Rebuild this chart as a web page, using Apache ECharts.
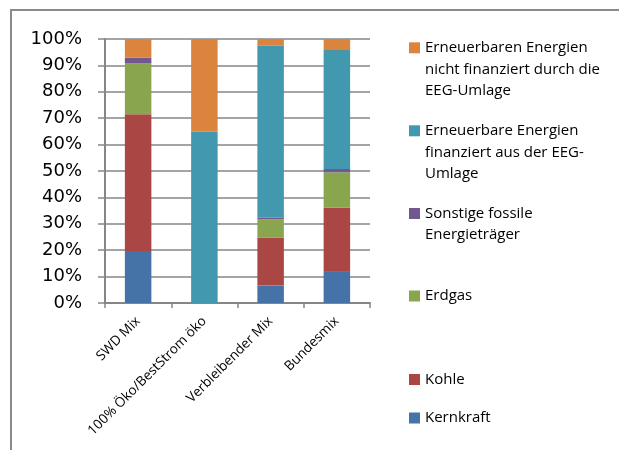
<!DOCTYPE html>
<html>
<head>
<meta charset="utf-8">
<script src="https://cdn.jsdelivr.net/npm/echarts@6/dist/echarts.min.js"></script>
<style>
  html, body { margin: 0; padding: 0; background: #fff; }
  #chart { width: 619px; height: 450px; }
</style>
</head>
<body>
<div id="chart"></div>
<script>
// Kategorien und Werte (in %)
const categories = ['SWD Mix', '100% Öko/BestStrom öko', 'Verbleibender Mix', 'Bundesmix']
const kernkraft = [19.7, 0, 6.6, 12.1]
const kohle = [51.8, 0, 18.1, 24.1]
const erdgas = [19.3, 0, 7.0, 13.3]
const sonstige = [2.1, 0, 0.6, 1.3]
const eegFinanziert = [0, 64.9, 65.2, 45.0]
const eegNicht = [7.1, 35.1, 2.5, 4.2]

const seriesNames = [
  'Kernkraft',
  'Kohle',
  'Erdgas',
  'Sonstige fossile Energieträger',
  'Erneuerbare Energien finanziert aus der EEG-Umlage',
  'Erneuerbaren Energien nicht finanziert durch die EEG-Umlage'
]
// Legendentext mit Zeilenumbruechen wie im Original
const legendLabels = [
  'Kernkraft',
  'Kohle',
  'Erdgas',
  'Sonstige fossile\nEnergieträger',
  'Erneuerbare Energien\nfinanziert aus der EEG-\nUmlage',
  'Erneuerbaren Energien\nnicht finanziert durch die\nEEG-Umlage'
]
const seriesData = [kernkraft, kohle, erdgas, sonstige, eegFinanziert, eegNicht]
const colors = ['#4572A7', '#AA4643', '#89A54E', '#71588F', '#4198AF', '#DB843D']

// Mitte des Legendensymbols (y) pro Serie
const legendIconY = [418, 379.5, 296, 213.5, 130.8, 47.8]
const lineH = 21.5

const myChart = echarts.init(document.getElementById('chart'))

const legends = seriesNames.map((name, i) => {
  const n = legendLabels[i].split('\n').length
  return {
    show: true,
    orient: 'vertical',
    left: 409,
    top: legendIconY[i] - (2 * n - 1) * lineH / 2,
    padding: 0,
    icon: 'rect',
    itemWidth: 11,
    itemHeight: 11,
    selectedMode: false,
    data: [name],
    // leere Zeilen davor, damit das Symbol an der ersten Zeile steht
    formatter: () => '\n'.repeat(n - 1) + legendLabels[i],
    textStyle: {
      fontFamily: 'Open Sans',
      fontSize: 15,
      lineHeight: lineH,
      color: '#000'
    }
  }
})

const options = {
  animation: false,
  color: colors,
  graphic: [
    {
      type: 'rect',
      z: -1,
      shape: { x: 11, y: 10, width: 700, height: 500 },
      style: { fill: 'none', stroke: '#8a8a8a', lineWidth: 2 }
    }
  ],
  legend: legends,
  grid: {
    left: 105,
    right: 249,
    top: 39,
    bottom: 147,
    outerBoundsMode: 'none'
  },
  xAxis: {
    type: 'category',
    data: categories,
    axisLine: { lineStyle: { color: '#868686', width: 2 } },
    axisTick: { show: true, length: 5, lineStyle: { color: '#868686', width: 1.5 } },
    axisLabel: {
      rotate: 45,
      margin: 16,
      interval: 0,
      fontFamily: 'Open Sans',
      fontSize: 13.5,
      color: '#000'
    }
  },
  yAxis: {
    type: 'value',
    min: 0,
    max: 100,
    interval: 10,
    axisLine: { show: true, lineStyle: { color: '#868686', width: 2 } },
    axisTick: { show: true, length: 7, lineStyle: { color: '#868686', width: 1.5 } },
    splitLine: { lineStyle: { color: '#868686', width: 1.5 } },
    axisLabel: {
      formatter: '{value}%',
      margin: 23,
      fontFamily: 'DejaVu Sans',
      fontSize: 18,
      color: '#000'
    }
  },
  series: seriesNames.map((name, i) => ({
    name: name,
    type: 'bar',
    stack: 'total',
    barWidth: '40%',
    data: seriesData[i],
    itemStyle: { color: colors[i] },
    emphasis: { disabled: true }
  }))
}

myChart.setOption(options)
</script>
</body>
</html>
